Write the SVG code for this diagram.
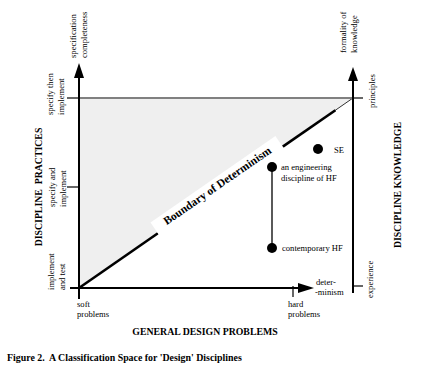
<svg xmlns="http://www.w3.org/2000/svg" width="428" height="374" viewBox="0 0 428 374">
<style>
.t{font-family:"Liberation Serif","Times New Roman",serif;font-size:8.6px;fill:#000}
.b{font-family:"Liberation Serif","Times New Roman",serif;font-weight:bold;fill:#000}
.ax{stroke:#000;stroke-width:2;fill:none}
.tk{stroke:#000;stroke-width:1.2;fill:none}
.ah{fill:#000}
</style>
<rect width="428" height="374" fill="#fff"/>
<g id="region">
<polygon points="79,98 353,98 79,288" fill="#efefef" stroke="#000" stroke-width="0.8"/>
<line x1="79" y1="98" x2="353" y2="98" stroke="#808080" stroke-width="1.8"/>
</g>
<g id="boundary" transform="translate(79,288) rotate(-34.74)">
<line x1="0" y1="0" x2="96" y2="0" stroke="#000" stroke-width="2.6"/>
<line x1="248" y1="0" x2="312" y2="0" stroke="#000" stroke-width="2.6"/>
<rect x="96" y="-13" width="152" height="16" fill="#fff"/>
<text class="b" x="172" y="-1.5" font-size="11.5" text-anchor="middle">Boundary of Determinism</text>
</g>
<g id="axes">
<line class="ax" x1="79" y1="76" x2="79" y2="299"/>
<polygon class="ah" points="79,63 74,78 84,78"/>
<line class="ax" x1="70" y1="288" x2="300" y2="288"/>
<polygon class="ah" points="314,288 298,283 298,293"/>
<line class="ax" x1="353" y1="78" x2="353" y2="293"/>
<polygon class="ah" points="353,67 348,81 358,81"/>
<line class="tk" x1="67" y1="98" x2="79" y2="98"/>
<line class="tk" x1="67" y1="187" x2="79" y2="187"/>
<line class="tk" x1="293" y1="286" x2="293" y2="297"/>
<line class="tk" x1="353" y1="98" x2="363" y2="98"/>
<line class="tk" x1="353" y1="286" x2="363" y2="286"/>
</g>
<g id="connectors">
<line x1="272" y1="167" x2="272" y2="248" stroke="#000" stroke-width="1.3"/>
</g>
<g id="node-se">
<circle cx="318" cy="149" r="5" fill="#000"/>
<text class="t" x="334" y="153">SE</text>
</g>
<g id="node-eng">
<circle cx="272" cy="167" r="5" fill="#000"/>
<text class="t" x="281" y="170">an engineering</text>
<text class="t" x="281" y="181">discipline of HF</text>
</g>
<g id="node-contemp">
<circle cx="272" cy="248" r="5" fill="#000"/>
<text class="t" x="282" y="251">contemporary HF</text>
</g>
<g id="left-labels">
<text class="t" transform="translate(76,58) rotate(-90)"><tspan x="0" y="0">specification</tspan><tspan x="0" y="10.5">completeness</tspan></text>
<text class="t" transform="translate(53,115) rotate(-90)"><tspan x="0" y="0">specify then</tspan><tspan x="0" y="10.5">implement</tspan></text>
<text class="t" transform="translate(55,207) rotate(-90)"><tspan x="0" y="0">specify and</tspan><tspan x="0" y="10.5">implement</tspan></text>
<text class="t" transform="translate(54,290) rotate(-90)"><tspan x="0" y="0">implement</tspan><tspan x="0" y="10.5">and test</tspan></text>
<text class="b" font-size="9.8" text-anchor="middle" transform="translate(42,187) rotate(-90)" xml:space="preserve">DISCIPLINE  PRACTICES</text>
</g>
<g id="right-labels">
<text class="t" transform="translate(346,53) rotate(-90)"><tspan x="0" y="0">formality of</tspan><tspan x="0" y="10.5">knowledge</tspan></text>
<text class="t" transform="translate(375,108) rotate(-90)">principles</text>
<text class="t" transform="translate(373,298) rotate(-90)">experience</text>
<text class="b" font-size="9.8" text-anchor="middle" transform="translate(401,185) rotate(-90)">DISCIPLINE KNOWLEDGE</text>
</g>
<g id="bottom-labels">
<text class="t" x="77" y="307">soft</text>
<text class="t" x="77" y="317">problems</text>
<text class="t" x="288" y="307">hard</text>
<text class="t" x="288" y="317">problems</text>
<text class="t" x="316" y="285">deter-</text>
<text class="t" x="315" y="295">-minism</text>
<text class="b" font-size="9.8" x="205" y="335" text-anchor="middle">GENERAL DESIGN PROBLEMS</text>
<text class="b" font-size="9.9" x="7" y="361" xml:space="preserve">Figure 2.  A Classification Space for 'Design' Disciplines</text>
</g>
</svg>
